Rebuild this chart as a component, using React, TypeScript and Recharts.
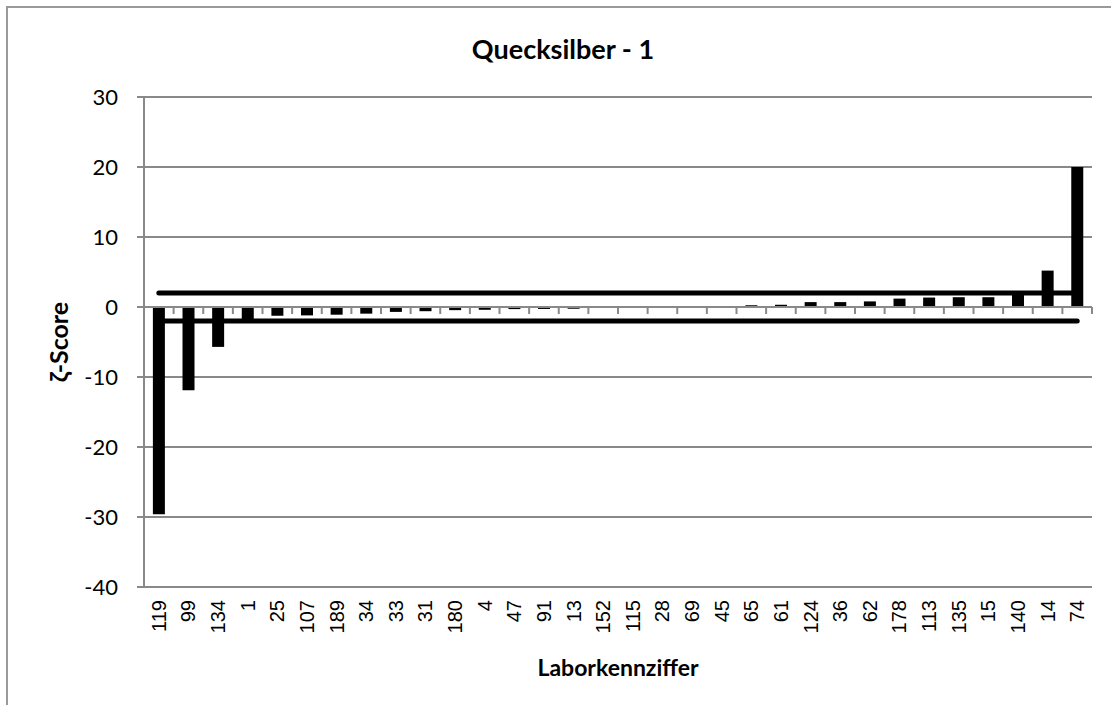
import { BarChart, Bar, XAxis, YAxis, CartesianGrid, ReferenceLine } from "recharts";

const labs = ["119", "99", "134", "1", "25", "107", "189", "34", "33", "31", "180", "4", "47", "91", "13", "152", "115", "28", "69", "45", "65", "61", "124", "36", "62", "178", "113", "135", "15", "140", "14", "74"];
const scores = [-29.6, -11.9, -5.7, -1.8, -1.25, -1.2, -1.1, -0.95, -0.7, -0.6, -0.45, -0.4, -0.3, -0.28, -0.25, -0.05, 0, 0.02, 0.1, 0.12, 0.25, 0.32, 0.7, 0.7, 0.8, 1.2, 1.35, 1.4, 1.4, 1.9, 5.2, 20];
const yTicks = [-40, -30, -20, -10, 0, 10, 20, 30];
const upperLimit = 2;
const lowerLimit = -2;

const GRID = "#898989";
const CALIBRI = "Lato, 'Open Sans', sans-serif";

const data = labs.map((lab, i) => ({ lab, score: scores[i] }));

function XTick({ x, y, payload }: any) {
	return (
		<text
			x={x}
			y={y}
			transform={`rotate(-90, ${x}, ${y})`}
			textAnchor='end'
			dy='0.35em'
			style={{
				fontFamily: "'Liberation Sans', Arial, sans-serif",
				fontSize: 20,
				fill: "#000",
			}}>
			{payload.value}
		</text>
	);
}

// category axis drawn through zero, tick marks between categories
function ZeroAxis(props: any) {
	const { x1, y1, x2 } = props;
	const step = (x2 - x1) / labs.length;
	return (
		<g>
			<line x1={x1} y1={y1} x2={x2} y2={y1} stroke={GRID} strokeWidth={2} />
			{labs.concat("").map((_, i) => (
				<line
					key={i}
					x1={x1 + step * i}
					x2={x1 + step * i}
					y1={y1}
					y2={y1 + 7}
					stroke={GRID}
					strokeWidth={2}
				/>
			))}
		</g>
	);
}

const titleStyle = {
	position: "absolute" as const,
	whiteSpace: "nowrap" as const,
	fontFamily: CALIBRI,
	fontWeight: 700,
	lineHeight: 1,
	color: "#000",
};

export default function App() {
	return (
		<div
			style={{
				position: "fixed",
				left: 0,
				top: 0,
				width: 1111,
				height: 705,
				overflow: "hidden",
				background: "#fff",
			}}>
			<div
				style={{
					position: "absolute",
					left: 6,
					top: 6,
					width: 1300,
					height: 900,
					border: "2px solid #9a9a9a",
				}}
			/>
			<div style={{ position: "absolute", left: 0, top: 0 }}>
				<BarChart
					width={1111}
					height={705}
					data={data}
					margin={{ top: 97, right: 19, bottom: 38, left: 84 }}
					barCategoryGap='30%'>
					<CartesianGrid horizontal vertical={false} stroke={GRID} strokeWidth={2} />
					<XAxis
						dataKey='lab'
						interval={0}
						axisLine={false}
						tickLine={false}
						tickSize={0}
						tickMargin={13}
						height={80}
						tick={<XTick />}
					/>
					<YAxis
						domain={[-40, 30]}
						ticks={yTicks}
						width={60}
						axisLine={{ stroke: GRID, strokeWidth: 2 }}
						tickLine={{ stroke: GRID, strokeWidth: 2 }}
						tickSize={7}
						tickMargin={19}
						tick={{ fill: "#000", fontSize: 22, fontFamily: CALIBRI }}
					/>
					<ReferenceLine y={0} shape={ZeroAxis} />
					<Bar dataKey='score' fill='#000' isAnimationActive={false} />
					<ReferenceLine
						segment={[
							{ x: labs[0], y: upperLimit },
							{ x: labs[labs.length - 1], y: upperLimit },
						]}
						stroke='#000'
						strokeWidth={5}
						strokeLinecap='round'
					/>
					<ReferenceLine
						segment={[
							{ x: labs[0], y: lowerLimit },
							{ x: labs[labs.length - 1], y: lowerLimit },
						]}
						stroke='#000'
						strokeWidth={5}
						strokeLinecap='round'
					/>
				</BarChart>
			</div>
			<div
				style={{
					...titleStyle,
					left: 563,
					top: 48,
					fontSize: 27,
					transform: "translate(-50%, -50%)",
				}}>
				Quecksilber - 1
			</div>
			<div
				style={{
					...titleStyle,
					left: 58,
					top: 342,
					fontSize: 25,
					transform: "translate(-50%, -50%) rotate(-90deg)",
				}}>
				ζ-Score
			</div>
			<div
				style={{
					...titleStyle,
					left: 618,
					top: 667,
					fontSize: 23,
					transform: "translate(-50%, -50%)",
				}}>
				Laborkennziffer
			</div>
		</div>
	);
}
